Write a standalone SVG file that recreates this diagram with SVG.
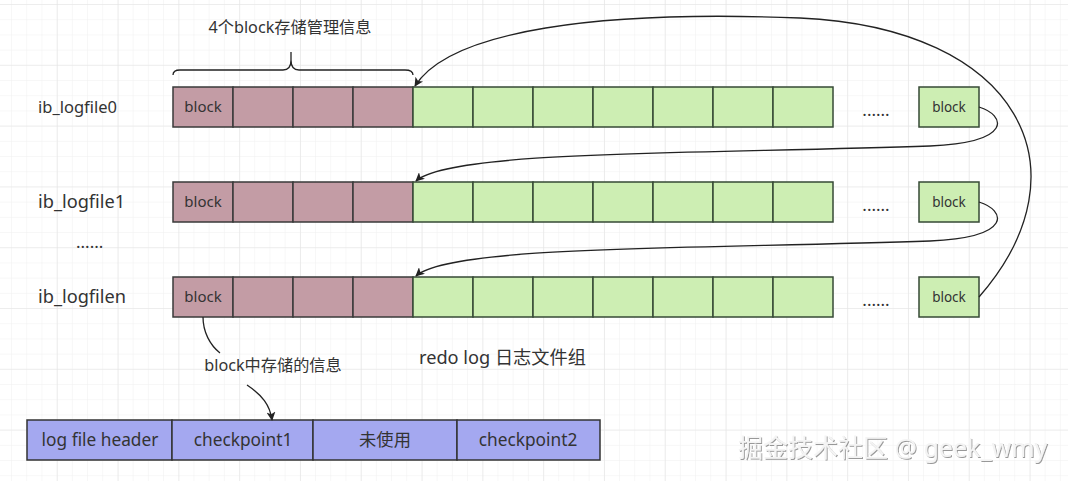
<svg xmlns="http://www.w3.org/2000/svg" width="1068" height="481" viewBox="0 0 1068 481">
<defs>
<pattern id="minor" x="12" y="5" width="15.2" height="15.2" patternUnits="userSpaceOnUse">
<path d="M15.2 0V15.2M0 15.2H15.2" fill="none" stroke="#efefef" stroke-width="1"/>
</pattern>
<pattern id="major" x="-3" y="5" width="60.8" height="60.8" patternUnits="userSpaceOnUse">
<path d="M60.8 0V60.8M0 60.8H60.8" fill="none" stroke="#e4e4e4" stroke-width="1.2"/>
</pattern>
<marker id="arr" viewBox="0 0 10 10" refX="9" refY="5" markerWidth="9" markerHeight="9" orient="auto" markerUnits="userSpaceOnUse">
<path d="M0 0L10 5L0 10L2.5 5Z" fill="#222"/>
</marker>
<filter id="sh" x="-5%" y="-20%" width="110%" height="140%">
<feDropShadow dx="1" dy="1" stdDeviation="0.6" flood-color="#555" flood-opacity="0.6"/>
</filter>
</defs>
<style>
text{font-family:"Noto Sans","Noto Sans CJK SC",sans-serif;fill:#333;}
.p{fill:#c39ca5;stroke:#3a3a3a;stroke-width:1.5;}
.g{fill:#cdeeb3;stroke:#364a36;stroke-width:1.5;}
.b{fill:#a4a8f0;stroke:#333;stroke-width:1.5;}
.c{text-anchor:middle;}
.lbl{font-size:18.2px;}
.bk{font-size:15px;}
.gb{font-size:13.5px;}
.dots{font-size:17px;}
.bt{font-size:17.3px;}
.con{fill:none;stroke:#222;stroke-width:1.3;}
</style>
<rect width="1068" height="481" fill="#fff"/>
<rect width="1068" height="481" fill="url(#minor)"/>
<rect width="1068" height="481" fill="url(#major)"/>

<g id="title">
<text x="290" y="33" class="c" font-size="16.2">4个block存储管理信息</text>
</g>

<g id="labels">
<text x="38" y="113" font-size="16.5">ib_logfile0</text>
<text x="38" y="208" class="lbl">ib_logfile1</text>
<text x="76" y="248" class="dots">......</text>
<text x="38" y="303" class="lbl">ib_logfilen</text>
<text x="419" y="364" font-size="18.2">redo log 日志文件组</text>
</g>

<g id="row0">
<rect class="p" x="173" y="87" width="60" height="40"/>
<rect class="p" x="233" y="87" width="60" height="40"/>
<rect class="p" x="293" y="87" width="60" height="40"/>
<rect class="p" x="353" y="87" width="60" height="40"/>
<rect class="g" x="413" y="87" width="60" height="40"/>
<rect class="g" x="473" y="87" width="60" height="40"/>
<rect class="g" x="533" y="87" width="60" height="40"/>
<rect class="g" x="593" y="87" width="60" height="40"/>
<rect class="g" x="653" y="87" width="60" height="40"/>
<rect class="g" x="713" y="87" width="60" height="40"/>
<rect class="g" x="773" y="87" width="60" height="40"/>
<rect class="g" x="919" y="87" width="60" height="40"/>
<text x="203" y="112" class="c bk">block</text>
<text x="876" y="116" class="c dots">......</text>
<text x="949" y="112" class="c gb">block</text>
</g>

<g id="row1">
<rect class="p" x="173" y="182" width="60" height="40"/>
<rect class="p" x="233" y="182" width="60" height="40"/>
<rect class="p" x="293" y="182" width="60" height="40"/>
<rect class="p" x="353" y="182" width="60" height="40"/>
<rect class="g" x="413" y="182" width="60" height="40"/>
<rect class="g" x="473" y="182" width="60" height="40"/>
<rect class="g" x="533" y="182" width="60" height="40"/>
<rect class="g" x="593" y="182" width="60" height="40"/>
<rect class="g" x="653" y="182" width="60" height="40"/>
<rect class="g" x="713" y="182" width="60" height="40"/>
<rect class="g" x="773" y="182" width="60" height="40"/>
<rect class="g" x="919" y="182" width="60" height="40"/>
<text x="203" y="207" class="c bk">block</text>
<text x="876" y="211" class="c dots">......</text>
<text x="949" y="207" class="c gb">block</text>
</g>

<g id="row2">
<rect class="p" x="173" y="277" width="60" height="40"/>
<rect class="p" x="233" y="277" width="60" height="40"/>
<rect class="p" x="293" y="277" width="60" height="40"/>
<rect class="p" x="353" y="277" width="60" height="40"/>
<rect class="g" x="413" y="277" width="60" height="40"/>
<rect class="g" x="473" y="277" width="60" height="40"/>
<rect class="g" x="533" y="277" width="60" height="40"/>
<rect class="g" x="593" y="277" width="60" height="40"/>
<rect class="g" x="653" y="277" width="60" height="40"/>
<rect class="g" x="713" y="277" width="60" height="40"/>
<rect class="g" x="773" y="277" width="60" height="40"/>
<rect class="g" x="919" y="277" width="60" height="40"/>
<text x="203" y="302" class="c bk">block</text>
<text x="876" y="306" class="c dots">......</text>
<text x="949" y="302" class="c gb">block</text>
</g>

<g id="blockinfo">
<rect class="b" x="27" y="420" width="145" height="40"/>
<rect class="b" x="172" y="420" width="141" height="40"/>
<rect class="b" x="313" y="420" width="144" height="40"/>
<rect class="b" x="457" y="420" width="143" height="40"/>
<text x="100" y="446" class="c bt">log file header</text>
<text x="243" y="446" class="c bt">checkpoint1</text>
<text x="385" y="446" class="c bt">未使用</text>
<text x="528" y="446" class="c bt">checkpoint2</text>
<text x="273" y="371" class="c" font-size="16.2">block中存储的信息</text>
</g>

<g id="connectors">
<path class="con" d="M173 75 Q173 70 180 70 L283 70 Q291 70 291 60 L291 52 L291 60 Q291 70 299 70 L405 70 Q413 70 413 75"/>
<path class="con" marker-end="url(#arr)" d="M979 297 C1090 170 1020 28 800 18 C600 10 450 30 415 86"/>
<path class="con" marker-end="url(#arr)" d="M979 107 C1005 115 1015 142 930 146 C700 154 450 150 416 181"/>
<path class="con" marker-end="url(#arr)" d="M979 202 C1005 210 1015 237 930 241 C700 249 450 245 416 276"/>
<path class="con" d="M203 317 C203 332 210 345 220 353"/>
<path class="con" marker-end="url(#arr)" d="M247 385 C262 395 270 405 272 420"/>
</g>

<g id="watermark">
<text x="738" y="457" font-size="25" style="fill:#f4f4f4" filter="url(#sh)">掘金技术社区 @ geek_wmy</text>
</g>
</svg>
